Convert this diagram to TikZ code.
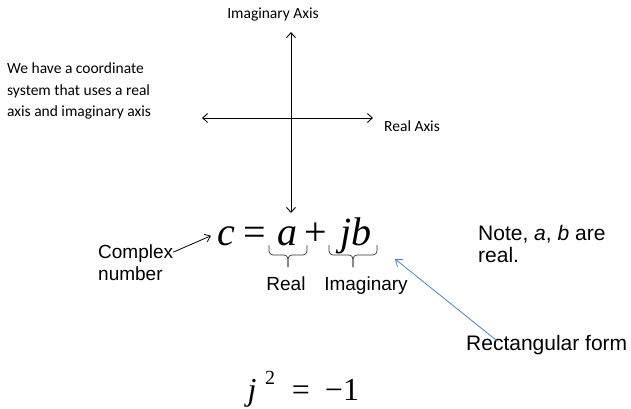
\documentclass[tikz,border=0pt]{standalone}
\usepackage{fontspec}
\setmainfont{Liberation Sans}
\newfontfamily\calib{Carlito}
\newfontfamily\timesf{Liberation Serif}
\usetikzlibrary{arrows.meta, positioning, calc}
\definecolor{officeblue}{RGB}{79,129,189}

\begin{document}
\begin{tikzpicture}[
    x=1pt, y=-1pt,
    every node/.style={inner sep=0pt},
    cal/.style={font=\calib\fontsize{15.5}{21.5}\selectfont},
    lbl/.style={font=\fontsize{19}{21}\selectfont},
    note/.style={font=\fontsize{21}{22}\selectfont},
    eqn/.style={font=\timesf\fontsize{40}{40}\selectfont, anchor=base},
    eqsmall/.style={font=\timesf\fontsize{32}{32}\selectfont, anchor=base},
    axisline/.style={line width=0.9pt, {Straight Barb[length=5pt,width=9pt]}-{Straight Barb[length=5pt,width=9pt]}},
    pointer/.style={line width=0.8pt, -{Straight Barb[length=5pt,width=8pt]}},
    bluearrow/.style={draw=officeblue, line width=0.8pt, -{Straight Barb[length=6pt,width=9pt]}},
    brk/.style={draw=black!80, line width=0.7pt, rounded corners=4pt}
  ]
  \useasboundingbox (0,0) rectangle (631,409);

  % axes
  \coordinate (top) at (291,32);
  \coordinate (bot) at (291,213);
  \coordinate (lft) at (202,118);
  \coordinate (rgt) at (373,118);
  \draw[axisline] (top) -- (bot);
  \draw[axisline] (lft) -- (rgt);
  \node[cal] (imag) at (273,15) {Imaginary Axis};
  \node[cal, anchor=west] (realax) at (384,126) {Real Axis};

  \node[cal, align=left, anchor=base west] (introtxt) at (7,117)
    {We have a coordinate\\system that uses a real\\axis and imaginary axis};

  % c = a + jb
  \node[eqn] (eqc) at (226,245) {\itshape c};
  \node[eqn] (eqeq) at (255,245) {=};
  \node[eqn] (eqa) at (287,245) {\itshape a};
  \node[eqn] (eqplus) at (316,245) {+};
  \node[eqn] (eqjb) at (356,245) {\itshape jb};

  \coordinate (abl) at (269,245);
  \coordinate (abr) at (307,245);
  \coordinate (jbl) at (329,245);
  \coordinate (jbr) at (377,245);
  \draw[brk] (abl) -- ++(0,10) -- ($(abl)!.5!(abr)+(0,10)$) -- ++(0,12);
  \draw[brk] (abr) -- ++(0,10) -- ($(abl)!.5!(abr)+(0,10)$) -- ++(0,12);
  \draw[brk] (jbl) -- ++(0,10) -- ($(jbl)!.5!(jbr)+(0,10)$) -- ++(0,12);
  \draw[brk] (jbr) -- ++(0,10) -- ($(jbl)!.5!(jbr)+(0,10)$) -- ++(0,12);
  \node[lbl, anchor=base] (reallbl) at (286,290) {Real};
  \node[lbl, anchor=base] (imaglbl) at (366,290) {Imaginary};

  \node[lbl, anchor=base west] (cplx) at (98,258) {Complex};
  \node[lbl, below=4pt of cplx.south west, anchor=north west] (numb) {number};
  \draw[pointer] ($(cplx.east)+(0,-1)$) -- ($(eqc.west)+(-6,0)$);

  \node[note, align=left, anchor=base west] (note) at (478,262)
    {Note, \textit{a}, \textit{b} are\\real.};

  \node[note, anchor=base west] (rect) at (466,350) {Rectangular form};
  \coordinate (rtip) at (395,259);
  \draw[bluearrow] ($(rect.north)+(-50,6)$) -- (rtip);

  % j^2 = -1
  \node[eqsmall] (jsq) at (252,400) {\itshape j};
  \node[font=\timesf\fontsize{20}{20}\selectfont, anchor=base] (two) at (270,384) {2};
  \node[eqsmall] (eqtwo) at (301,400) {=};
  \node[eqsmall] (minone) at (342,400) {−1};
\end{tikzpicture}
\end{document}
